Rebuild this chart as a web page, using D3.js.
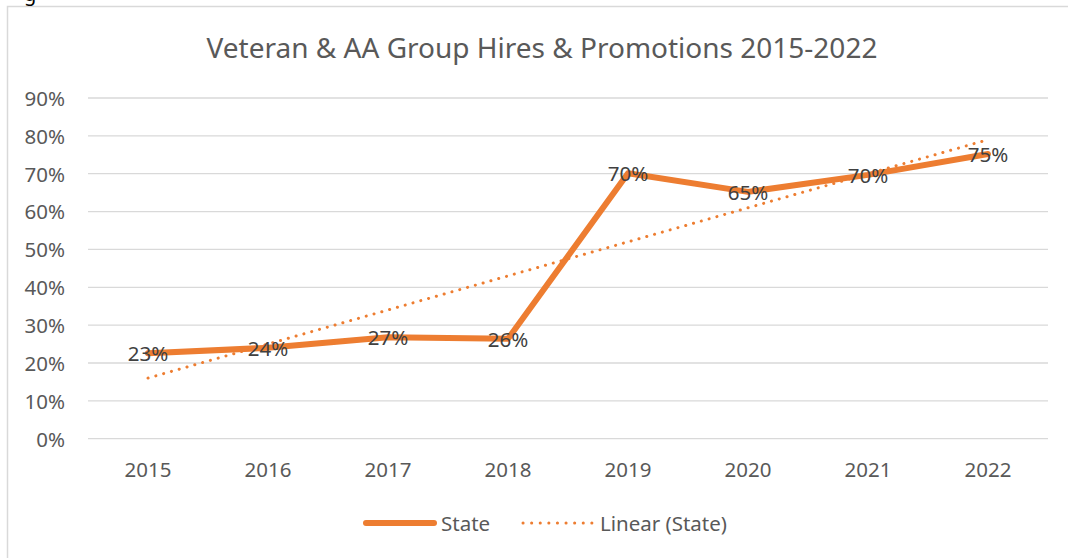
<!DOCTYPE html>
<html>
<head>
<meta charset="utf-8">
<script src="https://cdn.jsdelivr.net/npm/d3@7"></script>
<style>
html,body{margin:0;padding:0;background:#fff;}
svg{display:block;font-family:"Noto Sans","Open Sans",sans-serif;}
</style>
</head>
<body>
<svg id="chart" width="1068" height="558"></svg>
<script>
const title = "Veteran & AA Group Hires & Promotions 2015-2022";
const categories = ["2015","2016","2017","2018","2019","2020","2021","2022"];
const stateValues = [0.226, 0.240, 0.268, 0.264, 0.701, 0.652, 0.697, 0.752];
const dataLabels = ["23%","24%","27%","26%","70%","65%","70%","75%"];
const yTicks = [0,0.1,0.2,0.3,0.4,0.5,0.6,0.7,0.8,0.9];
const seriesName = "State";
const trendName = "Linear (State)";

const svg = d3.select("#chart");
const W = 1068, H = 558;
const plot = {left: 88, right: 1048, top: 98, bottom: 438.7};
const orange = "#ED7D31";
const fs = 20.5;

// chart border
svg.append("rect").attr("x",7.5).attr("y",6.5).attr("width",W).attr("height",H)
  .attr("fill","#fff").attr("stroke","#d9d9d9").attr("stroke-width",1.5);

// cut-off text above the chart
svg.append("text").attr("x",24).attr("y",1).attr("font-size",20).attr("fill","#000").text("g");

const x = d3.scaleBand().domain(categories).range([plot.left, plot.right]);
const y = d3.scaleLinear().domain([0,0.9]).range([plot.bottom, plot.top]);

// gridlines
svg.append("g").selectAll("line").data(yTicks).join("line")
  .attr("x1",plot.left).attr("x2",plot.right)
  .attr("y1",d=>y(d)).attr("y2",d=>y(d))
  .attr("stroke","#d9d9d9").attr("stroke-width",1.3);

// y axis labels
const yAxis = d3.axisLeft(y).tickValues(yTicks).tickFormat(d3.format(".0%")).tickSize(0).tickPadding(0);
const yg = svg.append("g").attr("transform",`translate(${plot.left-23},0)`).call(yAxis);
yg.select(".domain").remove();
yg.selectAll("text").attr("font-size",fs).attr("fill","#595959").attr("font-family","'Noto Sans',sans-serif")
  .attr("dy","0.36em");

// x axis labels
const xAxis = d3.axisBottom(x).tickSize(0).tickPadding(0);
const xg = svg.append("g").attr("transform",`translate(0,${plot.bottom+38.5})`).call(xAxis);
xg.select(".domain").remove();
xg.selectAll("text").attr("font-size",fs).attr("fill","#595959").attr("font-family","'Noto Sans',sans-serif")
  .attr("dy",0);

// title
svg.append("text").attr("x",542).attr("y",58).attr("text-anchor","middle")
  .attr("font-size",28).attr("fill","#595959").text(title);

const cx = d => x(d) + x.bandwidth()/2;

// linear trend (least squares on index 1..n)
const n = stateValues.length;
const xs = d3.range(1,n+1);
const mx = d3.mean(xs), my = d3.mean(stateValues);
const slope = d3.sum(xs.map((xi,i)=>(xi-mx)*(stateValues[i]-my))) / d3.sum(xs.map(xi=>(xi-mx)*(xi-mx)));
const intercept = my - slope*mx;
const trend = xs.map(xi => intercept + slope*xi);

const line = d3.line().x((d,i)=>cx(categories[i])).y(d=>y(d));

svg.append("path").datum(stateValues).attr("d",line)
  .attr("fill","none").attr("stroke",orange).attr("stroke-width",6)
  .attr("stroke-linejoin","round").attr("stroke-linecap","round");

svg.append("path").datum(trend).attr("d",line)
  .attr("fill","none").attr("stroke",orange).attr("stroke-width",3)
  .attr("stroke-linecap","round").attr("stroke-dasharray","0.1 8");

// data labels
svg.append("g").selectAll("text").data(stateValues).join("text")
  .attr("x",(d,i)=>cx(categories[i])).attr("y",d=>y(d)+8)
  .attr("text-anchor","middle").attr("font-size",fs).attr("fill","#404040")
  .text((d,i)=>dataLabels[i]);

// legend
const ly = 523;
svg.append("line").attr("x1",366).attr("x2",434).attr("y1",ly).attr("y2",ly)
  .attr("stroke",orange).attr("stroke-width",6).attr("stroke-linecap","round");
svg.append("text").attr("x",441).attr("y",ly+7.5).attr("font-size",fs).attr("fill","#595959").text(seriesName);
svg.append("line").attr("x1",523).attr("x2",592).attr("y1",ly).attr("y2",ly)
  .attr("stroke",orange).attr("stroke-width",3).attr("stroke-linecap","round").attr("stroke-dasharray","0.1 8.5");
svg.append("text").attr("x",600).attr("y",ly+7.5).attr("font-size",fs).attr("fill","#595959").text(trendName);
</script>
</body>
</html>
